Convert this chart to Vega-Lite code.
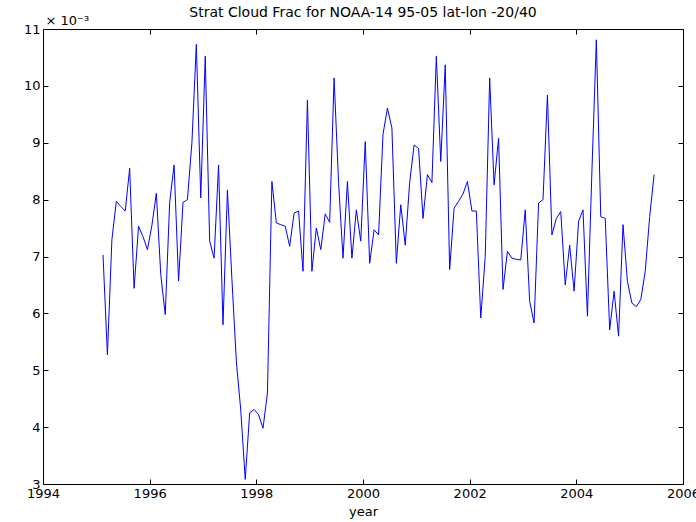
{
  "$schema": "https://vega.github.io/schema/vega-lite/v6.json",
  "width": 640,
  "height": 455,
  "autosize": {"type": "none"},
  "padding": {"left": 43, "top": 29, "right": 13, "bottom": 38},
  "background": "white",
  "title": {"text": "Strat Cloud Frac for NOAA-14 95-05 lat-lon -20/40", "font": "DejaVu Sans", "fontSize": 14, "fontWeight": "normal", "color": "#000000", "offset": -6, "anchor": "middle"},
  "config": {"view": {"stroke": null}},
  "data": {"values": [
    {"t": 1995.125, "frac": 0.00703}, {"t": 1995.208, "frac": 0.00527}, {"t": 1995.292, "frac": 0.0073}, {"t": 1995.375, "frac": 0.00797},
    {"t": 1995.458, "frac": 0.00788}, {"t": 1995.542, "frac": 0.0078}, {"t": 1995.625, "frac": 0.00855}, {"t": 1995.708, "frac": 0.00644},
    {"t": 1995.792, "frac": 0.00753}, {"t": 1995.875, "frac": 0.00735}, {"t": 1995.958, "frac": 0.00712}, {"t": 1996.042, "frac": 0.00755},
    {"t": 1996.125, "frac": 0.00811}, {"t": 1996.208, "frac": 0.00668}, {"t": 1996.292, "frac": 0.00598}, {"t": 1996.375, "frac": 0.00795},
    {"t": 1996.458, "frac": 0.00861}, {"t": 1996.542, "frac": 0.00657}, {"t": 1996.625, "frac": 0.00795}, {"t": 1996.708, "frac": 0.008},
    {"t": 1996.792, "frac": 0.009}, {"t": 1996.875, "frac": 0.01073}, {"t": 1996.958, "frac": 0.00803}, {"t": 1997.042, "frac": 0.01052},
    {"t": 1997.125, "frac": 0.00727}, {"t": 1997.208, "frac": 0.00697}, {"t": 1997.292, "frac": 0.00861}, {"t": 1997.375, "frac": 0.0058},
    {"t": 1997.458, "frac": 0.00817}, {"t": 1997.542, "frac": 0.0066}, {"t": 1997.625, "frac": 0.00516}, {"t": 1997.708, "frac": 0.0043},
    {"t": 1997.792, "frac": 0.00308}, {"t": 1997.875, "frac": 0.00425}, {"t": 1997.958, "frac": 0.00431}, {"t": 1998.042, "frac": 0.00422},
    {"t": 1998.125, "frac": 0.00398}, {"t": 1998.208, "frac": 0.0046}, {"t": 1998.292, "frac": 0.00832}, {"t": 1998.375, "frac": 0.00759},
    {"t": 1998.458, "frac": 0.00756}, {"t": 1998.542, "frac": 0.00753}, {"t": 1998.625, "frac": 0.00718}, {"t": 1998.708, "frac": 0.00776},
    {"t": 1998.792, "frac": 0.0078}, {"t": 1998.875, "frac": 0.00674}, {"t": 1998.958, "frac": 0.00975}, {"t": 1999.042, "frac": 0.00674},
    {"t": 1999.125, "frac": 0.0075}, {"t": 1999.208, "frac": 0.00712}, {"t": 1999.292, "frac": 0.00775}, {"t": 1999.375, "frac": 0.0076},
    {"t": 1999.458, "frac": 0.01014}, {"t": 1999.542, "frac": 0.0083}, {"t": 1999.625, "frac": 0.00697}, {"t": 1999.708, "frac": 0.00832},
    {"t": 1999.792, "frac": 0.00697}, {"t": 1999.875, "frac": 0.00782}, {"t": 1999.958, "frac": 0.00727}, {"t": 2000.042, "frac": 0.00902},
    {"t": 2000.125, "frac": 0.00688}, {"t": 2000.208, "frac": 0.00747}, {"t": 2000.292, "frac": 0.00738}, {"t": 2000.375, "frac": 0.00915},
    {"t": 2000.458, "frac": 0.00961}, {"t": 2000.542, "frac": 0.00926}, {"t": 2000.625, "frac": 0.00688}, {"t": 2000.708, "frac": 0.00791},
    {"t": 2000.792, "frac": 0.0072}, {"t": 2000.875, "frac": 0.0083}, {"t": 2000.958, "frac": 0.00896}, {"t": 2001.042, "frac": 0.0089},
    {"t": 2001.125, "frac": 0.00767}, {"t": 2001.208, "frac": 0.00844}, {"t": 2001.292, "frac": 0.0083}, {"t": 2001.375, "frac": 0.01052},
    {"t": 2001.458, "frac": 0.00867}, {"t": 2001.542, "frac": 0.01037}, {"t": 2001.625, "frac": 0.00677}, {"t": 2001.708, "frac": 0.00785},
    {"t": 2001.792, "frac": 0.00797}, {"t": 2001.875, "frac": 0.0081}, {"t": 2001.958, "frac": 0.00832}, {"t": 2002.042, "frac": 0.0078},
    {"t": 2002.125, "frac": 0.0078}, {"t": 2002.208, "frac": 0.00592}, {"t": 2002.292, "frac": 0.007}, {"t": 2002.375, "frac": 0.01014},
    {"t": 2002.458, "frac": 0.00826}, {"t": 2002.542, "frac": 0.00908}, {"t": 2002.625, "frac": 0.00642}, {"t": 2002.708, "frac": 0.00709},
    {"t": 2002.792, "frac": 0.00697}, {"t": 2002.875, "frac": 0.00695}, {"t": 2002.958, "frac": 0.00694}, {"t": 2003.042, "frac": 0.00782},
    {"t": 2003.125, "frac": 0.00621}, {"t": 2003.208, "frac": 0.00583}, {"t": 2003.292, "frac": 0.00794}, {"t": 2003.375, "frac": 0.008},
    {"t": 2003.458, "frac": 0.00984}, {"t": 2003.542, "frac": 0.00738}, {"t": 2003.625, "frac": 0.00767}, {"t": 2003.708, "frac": 0.00779},
    {"t": 2003.792, "frac": 0.0065}, {"t": 2003.875, "frac": 0.0072}, {"t": 2003.958, "frac": 0.00639}, {"t": 2004.042, "frac": 0.00762},
    {"t": 2004.125, "frac": 0.00782}, {"t": 2004.208, "frac": 0.00595}, {"t": 2004.292, "frac": 0.0085}, {"t": 2004.375, "frac": 0.01081},
    {"t": 2004.458, "frac": 0.0077}, {"t": 2004.542, "frac": 0.00767}, {"t": 2004.625, "frac": 0.00571}, {"t": 2004.708, "frac": 0.00639},
    {"t": 2004.792, "frac": 0.0056}, {"t": 2004.875, "frac": 0.00756}, {"t": 2004.958, "frac": 0.00656}, {"t": 2005.042, "frac": 0.00618},
    {"t": 2005.125, "frac": 0.00612}, {"t": 2005.208, "frac": 0.00624}, {"t": 2005.292, "frac": 0.00674}, {"t": 2005.375, "frac": 0.0077},
    {"t": 2005.458, "frac": 0.00844}
  ]},
  "layer": [
    {
      "mark": {"type": "line", "color": "#0000ff", "strokeWidth": 1, "clip": true},
      "encoding": {
        "x": {"field": "t", "type": "quantitative",
          "scale": {"domain": [1994, 2006], "nice": false, "zero": false},
          "axis": {"orient": "bottom", "title": "year", "values": [1994, 1996, 1998, 2000, 2002, 2004, 2006], "format": "d",
            "grid": false, "domainColor": "#000000", "tickColor": "#000000", "tickSize": -5, "labelPadding": 8,
            "labelFont": "DejaVu Sans", "labelFontSize": 13, "labelColor": "#000000", "labelFlush": false,
            "titleFont": "DejaVu Sans", "titleFontSize": 13, "titleFontWeight": "normal", "titleColor": "#000000", "titlePadding": 5}},
        "y": {"field": "frac", "type": "quantitative",
          "scale": {"domain": [0.003, 0.011], "nice": false, "zero": false},
          "axis": {"orient": "left", "values": [0.003, 0.004, 0.005, 0.006, 0.007, 0.008, 0.009, 0.010, 0.011],
            "labelExpr": "format(round(datum.value*1000), 'd')",
            "grid": false, "domainColor": "#000000", "tickColor": "#000000", "tickSize": -5, "labelPadding": 8,
            "labelFont": "DejaVu Sans", "labelFontSize": 13, "labelColor": "#000000", "labelFlush": false,
            "title": "× 10⁻³", "titleAngle": 0, "titleAlign": "left", "titleBaseline": "alphabetic", "titleX": 2, "titleY": -5,
            "titleFont": "DejaVu Sans", "titleFontSize": 13, "titleFontWeight": "normal", "titleColor": "#000000"}}
      }
    },
    {
      "mark": {"type": "line", "opacity": 0},
      "encoding": {
        "x": {"field": "t", "type": "quantitative",
          "axis": {"orient": "top", "title": null, "labels": false, "values": [1994, 1996, 1998, 2000, 2002, 2004, 2006],
            "grid": false, "domainColor": "#000000", "tickColor": "#000000", "tickSize": -5}},
        "y": {"field": "frac", "type": "quantitative",
          "axis": {"orient": "right", "title": null, "labels": false, "values": [0.003, 0.004, 0.005, 0.006, 0.007, 0.008, 0.009, 0.010, 0.011],
            "grid": false, "domainColor": "#000000", "tickColor": "#000000", "tickSize": -5}}
      }
    }
  ],
  "resolve": {"axis": {"x": "independent", "y": "independent"}}
}
